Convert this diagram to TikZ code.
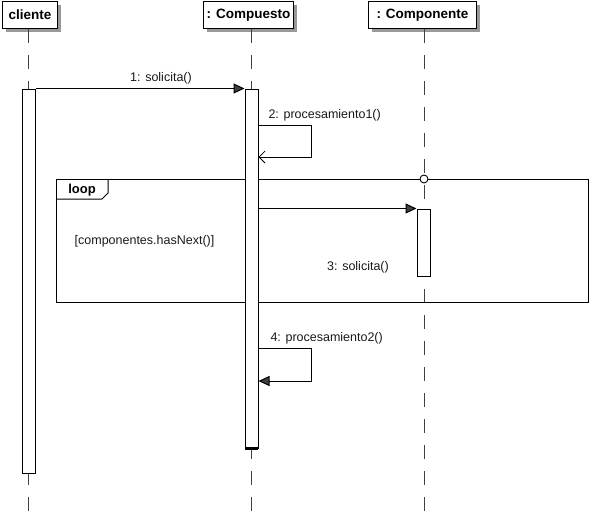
\documentclass[tikz,border=0pt]{standalone}
\usepackage{fontspec}
\setmainfont{Liberation Sans}
\usetikzlibrary{arrows.meta,shadows}
\begin{document}
\begin{tikzpicture}[x=1pt,y=-1pt,line width=1pt,
  hdr/.style={draw=black,fill=white,inner sep=0pt,anchor=north west,
    minimum height=27pt,font=\fontsize{13.5}{15}\selectfont\bfseries,
    drop shadow={shadow xshift=3pt,shadow yshift=-3pt,fill=black!40,opacity=1}},
  act/.style={draw=black,fill=white,inner sep=0pt,minimum width=13pt},
  life/.style={draw=black!75,dash pattern=on 14pt off 12pt},
  msg/.style={draw=black,-{Triangle[length=11pt,width=10pt,fill=black!75]}},
  ret/.style={draw=black,-{Straight Barb[length=6pt,width=12pt,line width=0.8pt]}},
  lbl/.style={font=\fontsize{12.5}{14}\selectfont,inner sep=0pt,text=black!90},
  frame/.style={draw=black,line width=1pt}]
\useasboundingbox (0,0) rectangle (590,517);

% headers
\node[hdr,minimum width=55pt] (h1) at (2,1) {cliente};
\node[hdr,minimum width=90pt] (h2) at (203,1) {: Compuesto};
\node[hdr,minimum width=108pt] (h3) at (368,1) {: Componente};

% lifeline ends
\coordinate (e1) at (28,517);
\coordinate (e2) at (251,517);
\coordinate (e3) at (424,517);
\draw[life] (h1.south -| e1) -- (e1);
\draw[life] (h2.south -| e2) -- (e2);
\draw[life] (h3.south -| e3) -- (e3);

% loop frame
\node[frame,minimum width=532pt,minimum height=123pt,inner sep=0pt,anchor=north west] (loopf) at (56,179) {};
\draw[frame] (56,199) -- (102,199) -- (108,193) -- (108,179);
\node[font=\fontsize{13}{15}\selectfont\bfseries,inner sep=0pt] (looplbl) at (82,190) {loop};
\node[lbl] (guard) at (144.5,241) {[componentes.hasNext()]};

% activations
\node[act,minimum height=384pt] (a1) at (28.5,281) {};
\node[act,minimum height=359pt] (a2) at (251.5,268.5) {};
\draw[line width=3pt] ([xshift=0.5pt]a2.south west) -- ([xshift=-0.5pt]a2.south east);
\node[act,minimum height=67pt] (a3) at (423.5,242.5) {};

% gate
\node[circle,draw=black,fill=white,inner sep=0pt,minimum size=8pt,line width=0.9pt] (gate) at (424,179) {};

% message 1
\draw[msg] (a1.north east) -- (a2.north west);
\node[lbl] (m1) at (161,78) {1: solicita()};

% message 2 (self call)
\coordinate (s2a) at (311,125);
\coordinate (s2b) at (311,157);
\draw[ret] (a2.east |- s2a) -- (s2a) -- (s2b) -- (a2.east |- s2b);
\node[lbl,anchor=west] (m2) at (268,115) {2: procesamiento1()};

% message 3
\draw[msg] (a2.east |- a3.north) -- (a3.north west);
\node[lbl] (m3) at (358,267) {3: solicita()};

% message 4 (self call)
\coordinate (s4a) at (311,348);
\coordinate (s4b) at (311,381);
\draw[msg] (a2.east |- s4a) -- (s4a) -- (s4b) -- (a2.east |- s4b);
\node[lbl,anchor=west] (m4) at (270,338) {4: procesamiento2()};
\end{tikzpicture}
\end{document}
